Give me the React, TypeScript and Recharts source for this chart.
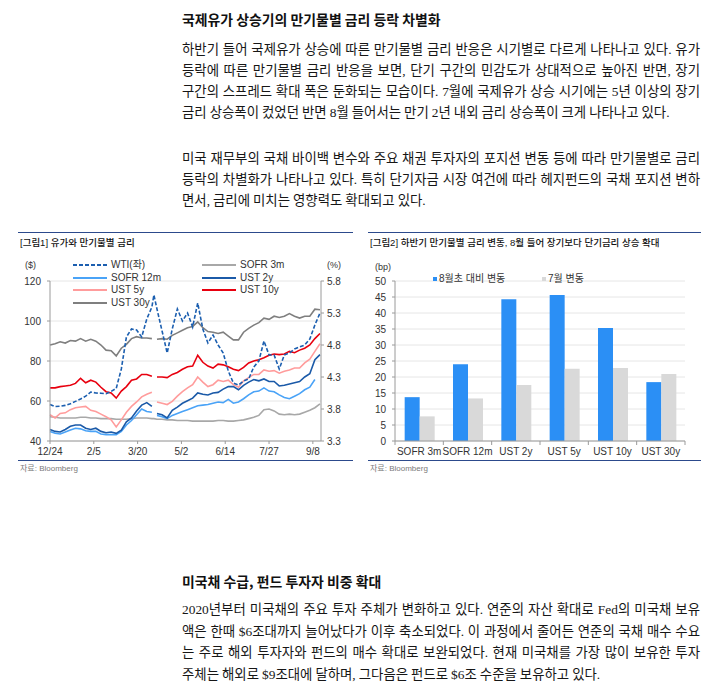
import React from 'react';
import {
  LineChart,
  Line,
  BarChart,
  Bar,
  XAxis,
  YAxis,
  CartesianGrid,
} from 'recharts';

// ---- Figure 1: oil price and rates by maturity (day index from 12/24) ----
const days = [
  0, 5, 10, 15, 20, 25, 30, 35, 40, 45, 50, 55, 60, 65, 70, 75, 80, 85, 90, 95, 100, 102,
  105, 110, 115, 120, 125, 130, 135, 140, 145, 150, 155, 160, 165, 170, 175, 180, 185, 190,
  195, 200, 205, 210, 215, 220, 225, 230, 235, 240, 245, 250, 255, 260, 265,
];
const wti = [
  58.3, 57.2, 57.4, 57.8, 58.6, 59.8, 61.0, 62.4, 64.5, 64.0, 63.9, 63.6, 64.8, 66.3, 76, 92, 96, 95.5, 92, 101, 107, 113,
  106, 95, 84, 96, 106, 100, 104, 97, 109, 96, 89, 93, 88, 84, 75, 69, 68, 70,
  71, 77, 80, 90, 83, 83, 76, 83, 84, 86, 87, 88, 91, 98, 104,
];
const sofr3m = [
  3.68, 3.67, 3.66, 3.66, 3.66, 3.66, 3.67, 3.67, 3.66, 3.66, 3.65, 3.65, 3.65, 3.64, 3.64, 3.64, 3.65, 3.66, 3.66, 3.66, 3.65, 3.65,
  3.64, 3.64, 3.63, 3.63, 3.62, 3.62, 3.62, 3.61, 3.61, 3.61, 3.61, 3.61, 3.62, 3.62, 3.61, 3.61, 3.62, 3.63,
  3.65, 3.67, 3.70, 3.79, 3.80, 3.77, 3.72, 3.71, 3.72, 3.71, 3.72, 3.75, 3.78, 3.82, 3.88,
];
const sofr12m = [
  3.45, 3.42, 3.41, 3.44, 3.47, 3.50, 3.49, 3.46, 3.45, 3.45, 3.41, 3.40, 3.40, 3.40, 3.45, 3.55, 3.62, 3.71, 3.80, 3.76, 3.75, null,
  3.70, 3.68, 3.65, 3.70, 3.73, 3.76, 3.79, 3.82, 3.85, 3.86, 3.87, 3.89, 3.91, 3.90, 3.95, 3.89, 3.91, 3.96,
  4.02, 4.07, 4.08, 4.13, 4.08, 4.07, 4.02, 3.98, 3.96, 4.00, 4.04, 4.10, 4.14, 4.26, null,
];
const ust2y = [
  3.48, 3.45, 3.44, 3.48, 3.53, 3.55, 3.55, 3.50, 3.48, 3.50, 3.45, 3.43, 3.44, 3.42, 3.47, 3.60, 3.66, 3.77, 3.86, 3.90, 3.84, null,
  3.73, 3.71, 3.66, 3.78, 3.83, 3.89, 3.93, 3.97, 4.05, 4.03, 4.02, 4.05, 4.06, 4.11, 4.15, 4.15, 4.10, 4.17,
  4.22, 4.26, 4.24, 4.27, 4.23, 4.23, 4.16, 4.17, 4.19, 4.21, 4.23, 4.30, 4.35, 4.57, 4.65,
];
const ust5y = [
  3.71, 3.66, 3.73, 3.74, 3.79, 3.82, 3.83, 3.84, 3.78, 3.76, 3.72, 3.68, 3.63, 3.52, 3.63, 3.75, 3.84, 3.91, 3.99, 4.03, 4.06, null,
  3.91, 3.89, 3.87, 3.92, 4.00, 4.07, 4.13, 4.18, 4.30, 4.22, 4.15, 4.18, 4.25, 4.23, 4.25, 4.18, 4.14, 4.24,
  4.29, 4.34, 4.34, 4.41, 4.39, 4.40, 4.36, 4.39, 4.41, 4.44, 4.44, 4.52, 4.58, 4.70, 4.82,
];
const ust10y = [
  4.13, 4.13, 4.15, 4.16, 4.17, 4.20, 4.28, 4.21, 4.25, 4.22, 4.14, 4.07, 4.05, 3.97, 4.08, 4.15, 4.25, 4.27, 4.34, 4.34, 4.31, null,
  4.30, 4.30, 4.29, 4.34, 4.37, 4.42, 4.46, 4.47, 4.64, 4.53, 4.47, 4.44, 4.50, 4.49, 4.46, 4.42, 4.40, 4.45,
  4.52, 4.55, 4.57, 4.60, 4.64, 4.66, 4.65, 4.66, 4.70, 4.68, 4.72, 4.75, 4.80, 4.90, 4.98,
];
const ust30y = [
  4.80, 4.82, 4.85, 4.83, 4.87, 4.86, 4.90, 4.86, 4.89, 4.86, 4.80, 4.72, 4.71, 4.63, 4.75, 4.81, 4.90, 4.93, 4.91, 4.91, 4.90, null,
  4.89, 4.90, 4.89, 4.95, 4.99, 5.03, 5.07, 5.09, 5.16, 5.07, 5.01, 5.00, 4.98, 5.00, 4.94, 4.88, 4.88, 5.00,
  5.06, 5.11, 5.15, 5.22, 5.20, 5.25, 5.23, 5.25, 5.29, 5.25, 5.22, 5.25, 5.25, 5.36, 5.35,
];
const dateTickDays = [0, 43, 86, 129, 172, 215, 258];
const dateTickLabels = ['12/24', '2/5', '3/20', '5/2', '6/14', '7/27', '9/8'];
const leftTicks = [40, 60, 80, 100, 120];
const rightTicks = [3.3, 3.8, 4.3, 4.8, 5.3, 5.8];

// ---- Figure 2: change by maturity (bp) ----
const maturities = ['SOFR 3m', 'SOFR 12m', 'UST 2y', 'UST 5y', 'UST 10y', 'UST 30y'];
const sinceAugust = [13.7, 24.0, 44.3, 45.6, 35.3, 18.4];
const julyChange = [7.7, 13.3, 17.5, 22.6, 22.8, 20.9];
const bpTicks = [0, 5, 10, 15, 20, 25, 30, 35, 40, 45, 50];

const SANS = "'Liberation Sans', Arial, 'Noto Sans CJK KR', sans-serif";
const BODY = "'Liberation Serif', 'Noto Sans CJK KR', serif";
const NAVY = '#2c4a8c';
const AXIS = '#9a9a9a';

const lineSeries = [
  { key: 'sofr3m', label: 'SOFR 3m', color: '#a8a8a8', axis: 'right', dash: undefined, col: 1, row: 0 },
  { key: 'sofr12m', label: 'SOFR 12m', color: '#4aa3f7', axis: 'right', dash: undefined, col: 0, row: 1 },
  { key: 'ust5y', label: 'UST 5y', color: '#ff9c9c', axis: 'right', dash: undefined, col: 0, row: 2 },
  { key: 'ust2y', label: 'UST 2y', color: '#1b5aa8', axis: 'right', dash: undefined, col: 1, row: 1 },
  { key: 'ust30y', label: 'UST 30y', color: '#7f7f7f', axis: 'right', dash: undefined, col: 0, row: 3 },
  { key: 'ust10y', label: 'UST 10y', color: '#e8000f', axis: 'right', dash: undefined, col: 1, row: 2 },
  { key: 'wti', label: 'WTI(좌)', color: '#1c5fb0', axis: 'left', dash: '4 2', col: 0, row: 0 },
];

const para1 = [
  '하반기 들어 국제유가 상승에 따른 만기물별 금리 반응은 시기별로 다르게 나타나고 있다. 유가',
  '등락에 따른 만기물별 금리 반응을 보면, 단기 구간의 민감도가 상대적으로 높아진 반면, 장기',
  '구간의 스프레드 확대 폭은 둔화되는 모습이다. 7월에 국제유가 상승 시기에는 5년 이상의 장기',
  '금리 상승폭이 컸었던 반면 8월 들어서는 만기 2년 내외 금리 상승폭이 크게 나타나고 있다.',
];
const para2 = [
  '미국 재무부의 국채 바이백 변수와 주요 채권 투자자의 포지션 변동 등에 따라 만기물별로 금리',
  '등락의 차별화가 나타나고 있다. 특히 단기자금 시장 여건에 따라 헤지펀드의 국채 포지션 변하',
  '면서, 금리에 미치는 영향력도 확대되고 있다.',
];
const para3 = [
  '2020년부터 미국채의 주요 투자 주체가 변화하고 있다. 연준의 자산 확대로 Fed의 미국채 보유',
  '액은 한때 $6조대까지 늘어났다가 이후 축소되었다. 이 과정에서 줄어든 연준의 국채 매수 수요',
  '는 주로 해외 투자자와 펀드의 매수 확대로 보완되었다. 현재 미국채를 가장 많이 보유한 투자',
  '주체는 해외로 $9조대에 달하며, 그다음은 펀드로 $6조 수준을 보유하고 있다.',
];

function Paragraph({ lines, top, pitch }: { lines: string[]; top: number; pitch: number }) {
  return (
    <>
      {lines.map((t, i) => (
        <div
          key={i}
          style={{
            position: 'absolute',
            left: 182,
            width: 518,
            top: top + i * pitch - 10.5,
            height: 21,
            lineHeight: '21px',
            fontSize: 13.4,
            wordSpacing: -0.3,
            fontFamily: BODY,
            color: '#161616',
            textAlign: 'justify',
            textAlignLast: i === lines.length - 1 ? 'left' : 'justify',
          }}
        >
          {t}
        </div>
      ))}
    </>
  );
}

function Heading({ text, centerY }: { text: string; centerY: number }) {
  return (
    <div
      style={{
        position: 'absolute',
        left: 182,
        top: centerY - 9,
        lineHeight: '18px',
        fontSize: 13.9,
        fontWeight: 700,
        fontFamily: "'Noto Sans CJK KR', sans-serif",
        color: '#111',
        whiteSpace: 'nowrap',
      }}
    >
      {text}
    </div>
  );
}

function Label({ x, y, children, size = 10, color = '#333' }: any) {
  return (
    <div
      style={{
        position: 'absolute',
        left: x,
        top: y - 7,
        lineHeight: '14px',
        fontSize: size,
        fontFamily: SANS,
        color,
        whiteSpace: 'nowrap',
      }}
    >
      {children}
    </div>
  );
}

function FigureFrame({ left, width, title }: { left: number; width: number; title: string }) {
  return (
    <>
      <div style={{ position: 'absolute', left, top: 232, width, height: 1, background: NAVY }} />
      <div style={{ position: 'absolute', left, top: 460, width, height: 1, background: NAVY }} />
      <div
        style={{
          position: 'absolute',
          left: left + 2,
          top: 236,
          lineHeight: '14px',
          fontSize: 9.5,
          fontWeight: 500,
          fontFamily: SANS,
          color: '#111',
          whiteSpace: 'nowrap',
        }}
      >
        {title}
      </div>
      <Label x={left + 2} y={468.5} size={8} color="#7a7a7a">
        자료: Bloomberg
      </Label>
    </>
  );
}

function RatesChart() {
  const rows = days.map((d, i) => ({
    day: d,
    wti: wti[i],
    sofr3m: sofr3m[i],
    sofr12m: sofr12m[i],
    ust2y: ust2y[i],
    ust5y: ust5y[i],
    ust10y: ust10y[i],
    ust30y: ust30y[i],
  }));
  const tickStyle = { fontSize: 10, fill: '#333', fontFamily: SANS };
  return (
    <div style={{ position: 'absolute', left: 0, top: 230 }}>
      <LineChart width={360} height={240} data={rows} margin={{ top: 51, right: 0, bottom: 0, left: 0 }}>
        <CartesianGrid yAxisId="left" vertical={false} stroke="#e6e6e6" />
        <XAxis
          dataKey="day"
          type="number"
          domain={[0, 266]}
          ticks={dateTickDays}
          interval={0}
          tickFormatter={(v: number) => dateTickLabels[dateTickDays.indexOf(v)]}
          height={29}
          tickSize={3}
          tickMargin={4}
          stroke={AXIS}
          tick={tickStyle}
        />
        <YAxis
          yAxisId="left"
          domain={[40, 120]}
          ticks={leftTicks}
          width={50}
          tickSize={3}
          tickMargin={6}
          stroke={AXIS}
          tick={tickStyle}
          allowDataOverflow
        />
        <YAxis
          yAxisId="right"
          orientation="right"
          domain={[3.3, 5.8]}
          ticks={rightTicks}
          width={39}
          tickSize={3}
          tickMargin={3}
          stroke={AXIS}
          tick={tickStyle}
          tickFormatter={(v: number) => v.toFixed(1)}
          allowDataOverflow
        />
        {lineSeries.map((s) => (
          <Line
            key={s.key}
            yAxisId={s.axis}
            dataKey={s.key}
            stroke={s.color}
            strokeWidth={1.6}
            strokeDasharray={s.dash}
            dot={false}
            activeDot={false}
            isAnimationActive={false}
          />
        ))}
      </LineChart>
    </div>
  );
}

function RatesLegend() {
  const colX = [73, 202];
  const rowY = [265, 277.5, 290, 302.5];
  return (
    <>
      {lineSeries.map((s) => (
        <div key={s.key}>
          <svg
            style={{ position: 'absolute', left: colX[s.col], top: rowY[s.row] - 2 }}
            width={34}
            height={4}
          >
            <line x1={0} y1={2} x2={34} y2={2} stroke={s.color} strokeWidth={2} strokeDasharray={s.dash} />
          </svg>
          <Label x={colX[s.col] + 38} y={rowY[s.row]}>
            {s.label}
          </Label>
        </div>
      ))}
      <Label x={25} y={265} size={9}>
        ($)
      </Label>
      <Label x={327} y={265} size={9}>
        (%)
      </Label>
    </>
  );
}

const BAND = 290 / maturities.length;

function BandTick(props: any) {
  const { x, y, payload, index } = props;
  return (
    <g>
      <line x1={x - BAND / 2} y1={y} x2={x - BAND / 2} y2={y + 4} stroke={AXIS} />
      {index === maturities.length - 1 && (
        <line x1={x + BAND / 2} y1={y} x2={x + BAND / 2} y2={y + 4} stroke={AXIS} />
      )}
      <text x={x} y={y + 14} textAnchor="middle" fontSize={10} fill="#333" fontFamily={SANS}>
        {payload.value}
      </text>
    </g>
  );
}

function ChangeChart() {
  const rows = maturities.map((m, i) => ({ name: m, aug: sinceAugust[i], jul: julyChange[i] }));
  return (
    <div style={{ position: 'absolute', left: 360, top: 230 }}>
      <BarChart
        width={340}
        height={240}
        data={rows}
        margin={{ top: 51, right: 15, bottom: 0, left: 0 }}
        barCategoryGap="20%"
        barGap={0}
      >
        <CartesianGrid vertical={false} stroke="#e6e6e6" />
        <XAxis
          dataKey="name"
          height={29}
          interval={0}
          tickLine={false}
          tickSize={0}
          tickMargin={0}
          stroke={AXIS}
          tick={<BandTick />}
        />
        <YAxis
          domain={[0, 50]}
          ticks={bpTicks}
          interval={0}
          width={35}
          tickSize={3}
          tickMargin={6}
          stroke={AXIS}
          tick={{ fontSize: 10, fill: '#333', fontFamily: SANS }}
        />
        <Bar dataKey="aug" fill="#2b8ff5" isAnimationActive={false} />
        <Bar dataKey="jul" fill="#d9d9d9" isAnimationActive={false} />
      </BarChart>
    </div>
  );
}

function ChangeLegend() {
  return (
    <>
      <Label x={375} y={267} size={9}>
        (bp)
      </Label>
      <div style={{ position: 'absolute', left: 433, top: 277, width: 4, height: 4, background: '#2b8ff5' }} />
      <Label x={439} y={279}>
        8월초 대비 변동
      </Label>
      <div style={{ position: 'absolute', left: 542, top: 277, width: 4, height: 4, background: '#d9d9d9' }} />
      <Label x={548} y={279}>
        7월 변동
      </Label>
    </>
  );
}

export default function App() {
  return (
    <div
      style={{
        position: 'absolute',
        left: 0,
        top: 0,
        width: 724,
        height: 693,
        overflow: 'hidden',
        background: '#fff',
      }}
    >
      <Heading text="국제유가 상승기의 만기물별 금리 등락 차별화" centerY={18.5} />
      <Paragraph lines={para1} top={49} pitch={21.2} />
      <Paragraph lines={para2} top={158} pitch={21.2} />

      <FigureFrame left={18} width={335} title="[그림1] 유가와 만기물별 금리" />
      <RatesChart />
      <RatesLegend />

      <FigureFrame
        left={368}
        width={333}
        title="[그림2] 하반기 만기물별 금리 변동, 8월 들어 장기보다 단기금리 상승 확대"
      />
      <ChangeChart />
      <ChangeLegend />

      <Heading text="미국채 수급, 펀드 투자자 비중 확대" centerY={580.5} />
      <Paragraph lines={para3} top={609.5} pitch={21.5} />
    </div>
  );
}
